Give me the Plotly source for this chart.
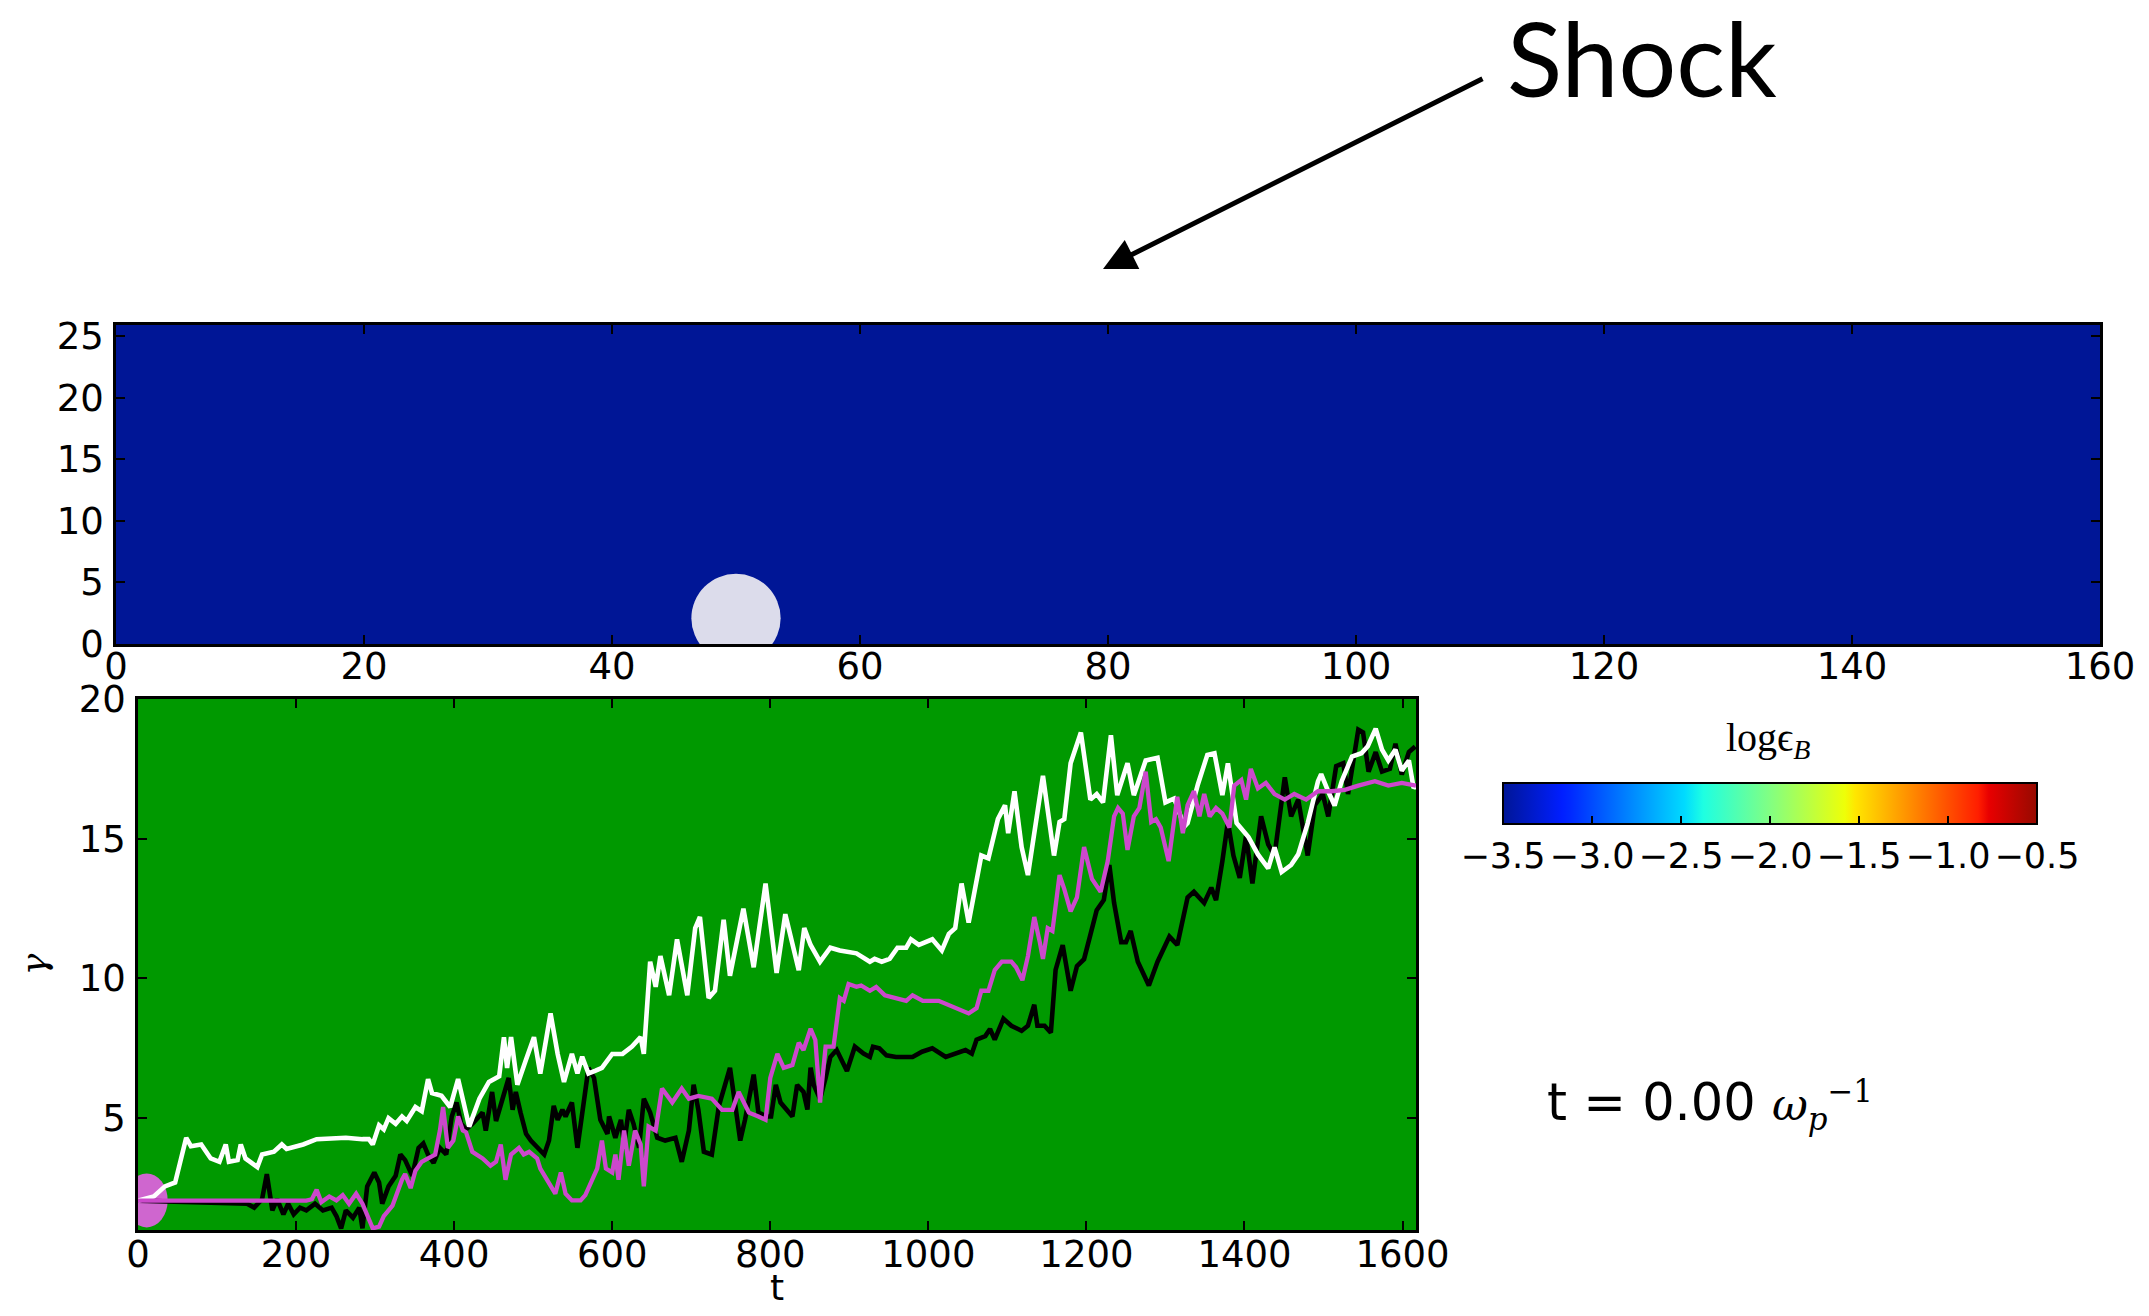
import plotly.graph_objects as go

# reference canvas and the figure placed inside the page's default 8px body margin
W, H = 2149, 1316
M = 8
FW, FH = W - 2 * M, H - 2 * M

# ---------------- data ----------------
# top panel: field log(eps_B) (uniform upstream value) and particle position
field_x_edges = [0, 160]
field_y_edges = [0, 25.9]
field_z = [[-3.5]]
particle_x = 50.0
particle_y = 2.1
particle_r = 3.6

# bottom panel: Lorentz factor histories
white_t = [0, 20, 34, 47, 61, 67, 80, 92, 103, 111, 115, 126, 130, 136, 151, 157, 172, 182, 188, 209,
           226, 247, 263, 284, 292, 297, 305, 311, 317, 326, 334, 340, 351, 359, 367, 372, 384, 395, 405,
           419, 432, 444, 457, 463, 467, 472, 480, 491, 501, 509, 522, 531, 539, 549, 556, 562, 570, 579,
           587, 600, 613, 625, 636, 640, 648, 655, 661, 672, 682, 695, 705, 711, 722, 730, 741, 749, 766,
           779, 794, 808, 819, 836, 843, 851, 863, 876, 888, 909, 926, 932, 941, 951, 961, 972, 978, 988,
           1005, 1017, 1026, 1034, 1042, 1051, 1067, 1076, 1088, 1097, 1101, 1109, 1118, 1126, 1134, 1145,
           1159, 1166, 1172, 1180, 1193, 1205, 1213, 1221, 1231, 1239, 1252, 1260, 1275, 1290, 1300, 1311,
           1324, 1328, 1341, 1353, 1362, 1372, 1379, 1390, 1405, 1417, 1430, 1438, 1447, 1459, 1468, 1480,
           1493, 1497, 1506, 1514, 1523, 1536, 1548, 1556, 1566, 1574, 1582, 1591, 1599, 1608, 1614, 1617]
white_g = [2.05, 2.2, 2.56, 2.7, 4.3, 4.0, 4.06, 3.56, 3.44, 4.06, 3.44, 3.5, 4.06, 3.56, 3.25, 3.7, 3.8, 4.06, 3.9, 4.06,
           4.25, 4.3, 4.3, 4.25, 4.25, 4.06, 4.75, 4.6, 5.0, 4.8, 5.06, 4.9, 5.4, 5.25, 6.4, 5.9, 5.8, 5.4, 6.4,
           4.7, 5.7, 6.3, 6.5, 7.9, 6.8, 7.9, 6.2, 7.1, 7.9, 6.6, 8.75, 7.3, 6.3, 7.3, 6.6, 7.2, 6.6, 6.7,
           6.8, 7.3, 7.3, 7.56, 7.9, 7.3, 10.6, 9.7, 10.8, 9.4, 11.4, 9.4, 11.8, 12.2, 9.3, 9.56, 12.1, 10.1, 12.5,
           10.4, 13.4, 10.2, 12.3, 10.3, 11.8, 11.2, 10.6, 11.1, 11.0, 10.9, 10.6, 10.7, 10.6, 10.7, 11.1, 11.1, 11.4, 11.2,
           11.4, 11.0, 11.6, 11.8, 13.4, 12.0, 14.4, 14.3, 15.7, 16.2, 15.2, 16.7, 14.7, 13.7, 15.1, 17.25,
           14.4, 15.6, 15.7, 17.7, 18.8, 16.4, 16.6, 16.3, 18.7, 16.56, 17.7, 16.56, 17.8, 17.9, 16.3, 16.44,
           15.44, 15.56, 16.94, 18.0, 18.06, 16.56, 17.7, 15.56, 15.06, 14.44, 13.94, 14.69, 13.81, 14.06, 14.44, 15.56,
           17.06, 17.31, 16.69, 16.19, 17.06, 17.94, 18.06, 18.31, 18.94, 18.19, 17.8, 18.19, 17.44, 17.8, 16.81, 16.9]

black_t = [0, 138, 147, 157, 163, 170, 176, 184, 190, 197, 205, 213, 224, 234, 245, 251, 257, 263, 272, 280,
           284, 290, 299, 305, 309, 317, 326, 332, 338, 347, 355, 361, 367, 374, 382, 390, 397, 403, 409,
           415, 423, 436, 440, 448, 453, 463, 469, 474, 478, 484, 491, 497, 505, 514, 520, 526, 531, 537,
           541, 549, 556, 562, 570, 577, 585, 594, 596, 604, 611, 615, 621, 627, 634, 640, 648, 657, 667,
           680, 688, 697, 703, 709, 716, 726, 735, 749, 756, 762, 768, 779, 785, 796, 801, 807, 813, 820,
           828, 834, 842, 847, 851, 855, 863, 870, 876, 884, 897, 907, 918, 926, 930, 938, 947, 959, 980,
           992, 1005, 1022, 1034, 1047, 1055, 1061, 1072, 1078, 1084, 1095, 1105, 1118, 1126, 1134, 1138,
           1147, 1155, 1161, 1170, 1180, 1188, 1197, 1205, 1213, 1222, 1229, 1235, 1244, 1250, 1256, 1265,
           1279, 1290, 1305, 1315, 1328, 1336, 1349, 1358, 1364, 1372, 1379, 1386, 1394, 1402, 1410, 1421,
           1430, 1438, 1451, 1459, 1468, 1480, 1489, 1499, 1506, 1516, 1525, 1531, 1544, 1550, 1557, 1566,
           1574, 1584, 1591, 1599, 1608, 1616]
black_g = [2.05, 1.94, 1.8, 2.1, 3.0, 1.7, 2.1, 1.56, 1.94, 1.56, 1.8, 1.7, 1.94, 1.7, 1.8, 1.5, 1.06, 1.7, 1.44, 1.8,
           1.06, 2.56, 3.06, 2.7, 1.94, 2.56, 2.94, 3.7, 3.5, 2.94, 3.94, 4.1, 3.7, 3.4, 3.94, 3.7, 5.06, 5.56, 4.8,
           4.6, 4.8, 5.2, 4.56, 5.94, 4.9, 5.94, 6.44, 5.3, 5.94, 5.2, 4.44, 4.2, 3.94, 3.7, 4.2, 5.44, 4.94, 5.3,
           5.06, 5.56, 3.94, 5.2, 6.8, 6.44, 4.94, 4.44, 5.06, 4.3, 4.94, 4.06, 5.3, 4.8, 3.94, 5.7, 5.2, 4.3, 4.2,
           4.3, 3.44, 4.56, 6.2, 5.3, 3.8, 3.7, 5.44, 6.8, 5.44, 4.2, 4.94, 6.56, 5.2, 5.06, 5.06, 6.19, 5.56, 5.31,
           5.06, 6.19, 5.94, 5.31, 6.81, 6.19, 5.69, 6.44, 7.19, 7.44, 6.69, 7.56, 7.31, 7.19, 7.56, 7.5, 7.25, 7.19, 7.19,
           7.38, 7.5, 7.19, 7.31, 7.44, 7.31, 7.81, 7.94, 8.19, 7.81, 8.56, 8.31, 8.13, 8.31, 9.06, 8.31,
           8.31, 8.06, 10.31, 11.19, 9.56, 10.44, 10.69, 11.56, 12.44, 12.81, 14.06, 12.7, 11.3, 11.3, 11.7, 10.6,
           9.75, 10.6, 11.5, 11.2, 12.9, 13.1, 12.7, 13.25, 12.8, 14.2, 15.6, 14.4, 13.6, 15.1, 13.4, 15.8,
           14.8, 14.4, 17.2, 15.8, 16.4, 14.4, 16.2, 16.6, 15.8, 17.6, 17.7, 16.6, 18.9, 18.8, 17.4, 18.1,
           17.4, 17.5, 18.4, 17.3, 18.1, 18.3]

magenta_t = [0, 213, 220, 226, 232, 242, 251, 259, 267, 276, 284, 290, 297, 305, 311, 322, 328, 334, 338, 345,
             351, 359, 367, 376, 382, 386, 392, 399, 405, 411, 415, 423, 436, 446, 453, 459, 465, 472, 482,
             488, 495, 505, 509, 518, 528, 535, 541, 549, 560, 566, 575, 581, 587, 592, 600, 604, 608, 615,
             621, 629, 636, 640, 646, 655, 663, 676, 688, 697, 709, 726, 739, 752, 760, 773, 785, 794, 800,
             809, 817, 828, 836, 842, 851, 857, 863, 870, 880, 888, 893, 899, 909, 915, 926, 934, 945, 959,
             972, 980, 993, 1013, 1026, 1038, 1051, 1061, 1067, 1076, 1084, 1093, 1105, 1111, 1119, 1126,
             1134, 1141, 1145, 1151, 1157, 1166, 1172, 1180, 1188, 1197, 1207, 1218, 1227, 1235, 1240, 1246,
             1252, 1260, 1267, 1275, 1282, 1288, 1294, 1304, 1310, 1315, 1322, 1328, 1336, 1343, 1349, 1356,
             1364, 1372, 1381, 1387, 1396, 1402, 1408, 1417, 1427, 1438, 1451, 1463, 1478, 1493, 1510, 1527,
             1544, 1565, 1582, 1599, 1617]
magenta_g = [2.05, 2.05, 2.1, 2.44, 2.0, 2.2, 2.06, 2.25, 1.94, 2.3, 1.94, 1.56, 1.06, 1.12, 1.5, 1.87, 2.37, 2.8, 3.0, 2.5,
             3.12, 3.44, 3.56, 3.7, 4.56, 5.4, 3.94, 4.2, 5.06, 4.56, 4.5, 3.8, 3.56, 3.3, 3.44, 4.06, 2.8, 3.7, 3.94,
             3.7, 3.8, 3.56, 3.2, 2.8, 2.3, 3.06, 2.3, 2.06, 2.06, 2.25, 2.8, 3.2, 4.2, 3.2, 3.06, 3.7, 2.8, 4.56,
             3.3, 4.56, 4.06, 2.56, 4.7, 4.56, 6.06, 5.56, 6.06, 5.7, 5.8, 5.7, 5.3, 5.3, 5.94, 5.2, 5.06, 4.94, 6.44,
             7.3, 6.8, 6.9, 7.7, 7.44, 8.2, 7.8, 5.56, 7.56, 7.56, 9.3, 9.2, 9.8, 9.7, 9.75, 9.56, 9.7, 9.4, 9.3,
             9.2, 9.4, 9.2, 9.2, 9.06, 8.9, 8.75, 8.94, 9.56, 9.56, 10.3, 10.6, 10.6, 10.4, 9.94, 10.8,
             12.2, 11.3, 10.7, 11.8, 11.7, 13.7, 13.2, 12.4, 12.9, 14.7, 13.56, 13.1, 14.2, 15.8, 16.1, 15.9,
             14.6, 15.8, 16.1, 17.4, 15.6, 15.7, 15.4, 14.2, 15.4, 16.5, 15.2, 16.2, 16.7, 15.8, 16.6, 15.8,
             16.1, 15.9, 15.4, 16.9, 17.1, 16.4, 17.5, 16.8, 17.0, 16.6, 16.4, 16.6, 16.4, 16.7, 16.7, 16.75,
             16.9, 17.06, 16.9, 17.0, 16.9]

marker_t = 11
marker_g = 2.06

top_x_ticks = [0, 20, 40, 60, 80, 100, 120, 140, 160]
top_y_ticks = [0, 5, 10, 15, 20, 25]
bot_x_ticks = [0, 200, 400, 600, 800, 1000, 1200, 1400, 1600]
bot_y_ticks = [5, 10, 15, 20]
cbar_ticks = [-3.5, -3.0, -2.5, -2.0, -1.5, -1.0, -0.5]

# ---------------- style / layout helpers ----------------
jet = [
    [0.0, "rgb(0,22,150)"], [0.11, "rgb(0,30,255)"], [0.125, "rgb(0,40,255)"],
    [0.34, "rgb(0,219,255)"], [0.375, "rgb(30,255,226)"], [0.5, "rgb(130,255,130)"],
    [0.64, "rgb(238,255,8)"], [0.66, "rgb(255,230,0)"], [0.89, "rgb(255,30,0)"],
    [0.91, "rgb(232,0,0)"], [1.0, "rgb(150,10,0)"]
]
TICKFONT = dict(family="DejaVu Sans", size=37, color="black")
CBFONT = dict(family="DejaVu Sans", size=35, color="black")


def dx(t):  # target pixel -> paper x
    return (t - M) / FW


def dy(t):  # target pixel -> paper y
    return 1 - (t - M) / FH


# panel rectangles in target pixels
TOP = dict(l=116, r=2100, t=325, b=644)
BOT = dict(l=138, r=1416, t=699, b=1230)
x2_range = [0, 1617]
y2_range = [1, 20]
# marker radius (pixels) converted into data units of the bottom panel
mrx = 21 * (x2_range[1] - x2_range[0]) / (BOT["r"] - BOT["l"])
mry = 27 * (y2_range[1] - y2_range[0]) / (BOT["b"] - BOT["t"])

fig = go.Figure()

fig.add_trace(go.Heatmap(
    x=field_x_edges, y=field_y_edges, z=field_z, zmin=-3.5, zmax=-0.5,
    colorscale=jet, xaxis="x", yaxis="y", hoverinfo="skip",
    colorbar=dict(
        orientation="h", x=dx(1770), xanchor="center", y=dy(783), yanchor="top",
        len=534, lenmode="pixels", thickness=41, thicknessmode="pixels",
        xpad=0, ypad=0,
        outlinewidth=2, outlinecolor="black",
        tickvals=cbar_ticks, ticktext=["\u2212%.1f" % abs(v) for v in cbar_ticks],
        ticks="inside", ticklen=9, tickwidth=1.5, tickcolor="black",
        tickangle=0, tickfont=CBFONT,
    ),
))

fig.add_trace(go.Scatter(x=black_t, y=black_g, mode="lines", xaxis="x2", yaxis="y2",
                         line=dict(color="black", width=4.6), showlegend=False))
fig.add_trace(go.Scatter(x=white_t, y=white_g, mode="lines", xaxis="x2", yaxis="y2",
                         line=dict(color="white", width=4.6), showlegend=False))
fig.add_trace(go.Scatter(x=magenta_t, y=magenta_g, mode="lines", xaxis="x2", yaxis="y2",
                         line=dict(color="#cc48cc", width=4.3), showlegend=False))

axis_common = dict(showgrid=False, zeroline=False, showline=True, linecolor="black", linewidth=2.5,
                   mirror="ticks", ticks="inside", ticklen=9, tickwidth=1.5, tickcolor="black",
                   tickfont=TICKFONT, automargin=False)

fig.update_layout(
    width=FW, height=FH, autosize=False,
    margin=dict(l=0, r=0, t=0, b=0, autoexpand=False),
    paper_bgcolor="white", plot_bgcolor="#009900",
    showlegend=False,
    xaxis=dict(domain=[dx(TOP["l"]), dx(TOP["r"])], anchor="y", range=[0, 160], tickvals=top_x_ticks,
               ticklabelstandoff=-12, **axis_common),
    yaxis=dict(domain=[dy(TOP["b"]), dy(TOP["t"])], anchor="x", range=[0, 25.9], tickvals=top_y_ticks,
               ticklabelstandoff=2, **axis_common),
    xaxis2=dict(domain=[dx(BOT["l"]), dx(BOT["r"])], anchor="y2", range=x2_range, tickvals=bot_x_ticks,
                ticklabelstandoff=-10,
                title=dict(text="t", font=dict(family="DejaVu Sans", size=36, color="black"), standoff=25),
                **axis_common),
    yaxis2=dict(domain=[dy(BOT["b"]), dy(BOT["t"])], anchor="x2", range=y2_range, tickvals=bot_y_ticks,
                ticklabelstandoff=2,
                title=dict(text="<i>\u03b3</i>", font=dict(family="DejaVu Serif", size=36, color="black"),
                           standoff=22),
                **axis_common),
    shapes=[
        dict(type="circle", xref="x", yref="y",
             x0=particle_x - particle_r, x1=particle_x + particle_r,
             y0=particle_y - particle_r, y1=particle_y + particle_r,
             fillcolor="#dcdceb", line=dict(width=0), layer="above"),
        dict(type="circle", xref="x2", yref="y2",
             x0=marker_t - mrx, x1=marker_t + mrx, y0=marker_g - mry, y1=marker_g + mry,
             fillcolor="#cf66cf", line=dict(width=0), layer="below"),
    ],
    annotations=[
        dict(xref="paper", yref="paper", x=dx(1505), y=dy(57), xanchor="left", yanchor="middle",
             text="Shock", showarrow=False,
             font=dict(family="Lato", size=102, color="black")),
        dict(xref="paper", yref="paper", x=dx(1103), y=dy(269), text="", showarrow=True,
             ax=1484 - 1103, ay=78 - 269, arrowhead=2, arrowsize=1.3,
             arrowwidth=5, arrowcolor="black"),
        dict(xref="paper", yref="paper", x=dx(1768), y=dy(740), xanchor="center", yanchor="middle",
             text="log\u03f5<sub><i>B</i></sub>", showarrow=False,
             font=dict(family="Liberation Serif", size=40, color="black")),
        dict(xref="paper", yref="paper", x=dx(1545), y=dy(1105), xanchor="left", yanchor="middle",
             showarrow=False,
             text="t = 0.00 <span style=\"font-family:'DejaVu Serif';font-size:44px\"><i>\u03c9</i>"
                  "<sub><i>p</i></sub><sup>\u22121</sup></span>",
             font=dict(family="DejaVu Sans", size=51, color="black")),
    ],
)

fig.write_html("out.html")
